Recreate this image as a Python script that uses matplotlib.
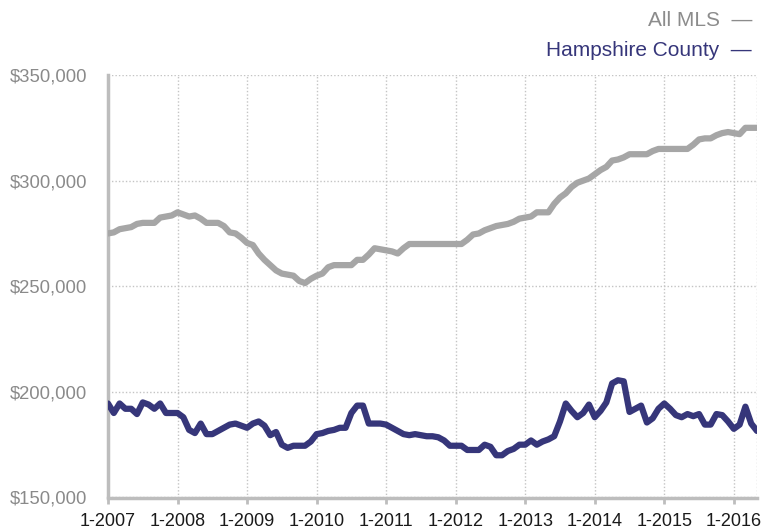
import numpy as np
import matplotlib
matplotlib.use("Agg")
import matplotlib.pyplot as plt
from matplotlib.ticker import FuncFormatter

plt.rcParams['font.family'] = ['Liberation Sans', 'DejaVu Sans']

# monthly median prices, 1-2007 .. 5-2016 (in $1000)
all_mls = [275, 275.5, 277, 277.5, 278, 279.5, 280, 280, 280, 282.5,
           283, 283.5, 285, 284, 283, 283.5, 282, 280, 280, 280,
           278.5, 275.5, 275, 273, 270.5, 269.5, 265.5, 262.5, 260, 257.5,
           256, 255.5, 255, 252.5, 251.5, 253.5, 255, 256, 259, 260,
           260, 260, 260, 262.5, 262.5, 265, 268, 267.5, 267, 266.5,
           265.5, 268, 270, 270, 270, 270, 270, 270, 270, 270,
           270, 270, 272, 274.5, 275, 276.5, 277.5, 278.5, 279, 279.5,
           280.5, 282, 282.5, 283, 285, 285, 285, 289, 292, 294,
           297, 299, 300, 301, 303, 305, 306.5, 309.5, 310, 311,
           312.5, 312.5, 312.5, 312.5, 314, 315, 315, 315, 315, 315,
           315, 317, 319.5, 320, 320, 321.5, 322.5, 323, 322.5, 322,
           325, 325, 325]

hampshire = [194.5, 190, 194.5, 192, 192, 189.5, 195, 194, 192, 194.5,
             190, 190, 190, 188, 182, 180.5, 185, 180, 180, 181.5,
             183, 184.5, 185, 184, 183, 185, 186, 184, 179.5, 181,
             175, 173.5, 174.5, 174.5, 174.5, 176.5, 180, 180.5, 181.5, 182,
             183, 183, 190, 193.5, 193.5, 185, 185, 185, 184.5, 183,
             181.5, 180, 179.5, 180, 179.5, 179, 179, 178.5, 177, 174.5,
             174.5, 174.5, 172.5, 172.5, 172.5, 175, 174, 170, 170, 172,
             173, 175, 175, 177, 175, 176.5, 177.5, 179, 186, 194.5,
             191, 188, 190, 194, 188, 191, 195, 204, 205.5, 205,
             190.5, 192, 193.5, 185.5, 187.5, 192, 194.5, 192, 189, 188,
             189.5, 188.5, 189.5, 184.5, 184.5, 189.5, 189, 186, 182.5, 184.5,
             193, 185, 181.5]

year_labels = ['1-2007', '1-2008', '1-2009', '1-2010', '1-2011',
               '1-2012', '1-2013', '1-2014', '1-2015', '1-2016']
y_ticks = [150000, 200000, 250000, 300000, 350000]

gray = '#a6a6a6'
navy = '#36367a'
axis_gray = '#bdbdbd'

months = np.arange(len(all_mls))
mls = np.array(all_mls) * 1000
ham = np.array(hampshire) * 1000

fig = plt.figure(figsize=(7.78, 5.31), dpi=100)
ax = fig.add_axes([108/778, 1 - 497.5/531, (757 - 108)/778, (497.5 - 75)/531])

ax.plot(months, mls, color=gray, lw=4.5, solid_joinstyle='round',
        solid_capstyle='round', zorder=3)
ax.plot(months, ham, color=navy, lw=4.5, solid_joinstyle='round',
        solid_capstyle='round', zorder=4)

ax.set_xlim(0, len(all_mls) - 1)
ax.set_ylim(150000, 350000)

year_pos = np.arange(len(year_labels)) * 12
ax.set_xticks(year_pos)
ax.set_xticklabels(year_labels, fontsize=13, color='#1a1a1a')
ax.set_yticks(y_ticks)
ax.yaxis.set_major_formatter(FuncFormatter(lambda v, p: '${:,.0f}'.format(v)))
ax.tick_params(axis='y', length=0, labelsize=13.3, labelcolor='#8a8a8a', pad=15)
ax.tick_params(axis='x', length=4, width=2, color=axis_gray, pad=7)

ax.grid(True, linestyle=(0, (1, 1.5)), color='#c4c4c4', lw=1)
ax.axvline(len(all_mls) - 1, linestyle=(0, (1, 1.5)), color='#c4c4c4', lw=1)
for s in ['top', 'right']:
    ax.spines[s].set_visible(False)
for s in ['left', 'bottom']:
    ax.spines[s].set_color(axis_gray)
    ax.spines[s].set_linewidth(2.5)

fig.text(752/778, 1 - 20/531, 'All MLS  \u2014', ha='right', va='center',
         fontsize=15, color='#8c8c8c')
fig.text(752/778, 1 - 51/531, 'Hampshire County  \u2014', ha='right', va='center',
         fontsize=15, color=navy)

fig.savefig('out.png', dpi=100)
